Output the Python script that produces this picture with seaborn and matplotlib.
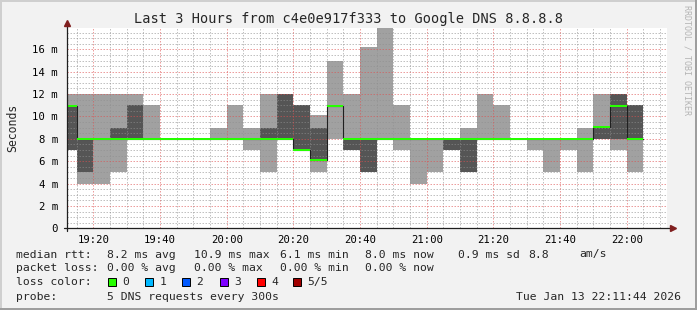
import numpy as np
import pandas as pd
import matplotlib
matplotlib.use("Agg")
import matplotlib.pyplot as plt
import seaborn as sns
from matplotlib.patches import Rectangle
from matplotlib.lines import Line2D

# ---------------- data ----------------
bin_end = ["19:15", "19:20", "19:25", "19:30", "19:35", "19:40", "19:45", "19:50",
           "19:55", "20:00", "20:05", "20:10", "20:15", "20:20", "20:25", "20:30",
           "20:35", "20:40", "20:45", "20:50", "20:55", "21:00", "21:05", "21:10",
           "21:15", "21:20", "21:25", "21:30", "21:35", "21:40", "21:45", "21:50",
           "21:55", "22:00", "22:05"]
ping_min = [7, 4, 4, 5, 8, 8, 8, 8, 8, 8, 8, 7, 5, 8, 7, 5, 8, 7, 5, 8,
            7, 4, 5, 7, 5, 8, 8, 8, 7, 5, 7, 5, 8, 7, 5]
ping_lo = [7, 5, 8, 8, 8, 8, 8, 8, 8, 8, 8, 8, 8, 8, 7, 6.1, 10.9, 7, 5, 8,
           8, 8, 8, 7, 5, 8, 8, 8, 8, 8, 8, 8, 8, 8, 8]
median = [10.9, 8, 8, 8, 8, 8, 8, 8, 8, 8, 8, 8, 8, 8, 7, 6.1, 10.9, 8, 8, 8,
          8, 8, 8, 8, 8, 8, 8, 8, 8, 8, 8, 8, 9.1, 10.9, 8]
ping_hi = [10.9, 8, 8, 9, 11, 8, 8, 8, 8, 8, 8, 8, 9, 12, 11, 9, 10.9, 8, 8, 8,
           8, 8, 8, 8, 8, 8, 8, 8, 8, 8, 8, 8, 9.1, 12, 11]
ping_max = [12, 12, 12, 12, 12, 11, 8, 8, 8, 9, 11, 9, 12, 12, 11, 10.1, 15, 12, 16.2, 17.9,
            11, 8, 8, 8, 9, 12, 11, 8, 8, 8, 8, 9, 12, 12, 11]
x_tick_labels = ["19:20", "19:40", "20:00", "20:20", "20:40", "21:00", "21:20", "21:40", "22:00"]
y_tick_values = [0, 2, 4, 6, 8, 10, 12, 14, 16]
window = ("19:12", "22:12")
title = "Last 3 Hours from c4e0e917f333 to Google DNS 8.8.8.8"
loss_labels = ["0", "1", "2", "3", "4", "5/5"]
loss_colors = ["#26ff00", "#00b8ff", "#0059ff", "#7e00ff", "#ff0000", "#a10000"]

# ---------------- helpers ----------------
def mins(t):
    h, m = t.split(":")
    return (int(h) - 19) * 60 + int(m)

x0, x1 = mins(window[0]), mins(window[1])
ends = np.array([mins(t) for t in bin_end], dtype=float)
starts = np.maximum(ends - 5, x0)
edges = np.append(starts, ends[-1])

def ext(a):
    a = np.asarray(a, dtype=float)
    return np.append(a, a[-1])

df = pd.DataFrame({"t": edges, "min": ext(ping_min), "lo": ext(ping_lo),
                   "med": ext(median), "hi": ext(ping_hi), "max": ext(ping_max)})

sns.set_style("white")
plt.rcParams["font.family"] = ["DejaVu Sans Mono", "DejaVu Sans"]

W, H = 697, 310
fig = plt.figure(figsize=(W / 100, H / 100), dpi=100, facecolor="#f2f2f2")
ax = fig.add_axes([66.7 / W, 1 - 228.3 / H, 600 / W, 200.8 / H])
ax.set_facecolor("white")

ymax = 17.95
ax.set_xlim(x0, x1)
ax.set_ylim(0, ymax)

# smoke
ax.fill_between(df["t"], df["min"], df["max"], step="post", color="#a1a1a1", lw=0, zorder=1)
ax.fill_between(df["t"], df["lo"], df["hi"], step="post", color="#555555", lw=0, zorder=1.1)

# grid (dotted, translucent like rrdtool)
major_x = [mins(t) for t in x_tick_labels]
minor_x = [v for v in np.arange(x0 + 3, x1 + 0.1, 5) if v not in major_x]
minor_y = [v for v in np.arange(0.5, ymax, 0.5) if v not in y_tick_values]
dot = (0, (1.5, 1.5))
gcol = (0.56, 0.56, 0.56, 0.55)
mcol = (0.87, 0.31, 0.31, 0.55)
for v in minor_x:
    ax.axvline(v, color=gcol, lw=0.72, linestyle=dot, zorder=2)
for v in minor_y:
    ax.axhline(v, color=gcol, lw=0.72, linestyle=dot, zorder=2)
for v in major_x:
    ax.axvline(v, color=mcol, lw=0.72, linestyle=dot, zorder=2.2)
for v in y_tick_values[1:]:
    ax.axhline(v, color=mcol, lw=0.72, linestyle=dot, zorder=2.2)

# median
sns.lineplot(data=df, x="t", y="med", drawstyle="steps-post", color="#202020",
             lw=0.8, estimator=None, sort=False, ax=ax, zorder=3)
half = ymax / 200.8
ax.fill_between(df["t"], df["med"] - half, df["med"] + half, step="post",
                color=loss_colors[0], lw=0, zorder=3.5)

# ticks
ax.set_xticks(major_x)
ax.set_xticklabels(x_tick_labels)
ax.set_xticks(minor_x, minor=True)
ax.set_yticks(y_tick_values)
ax.set_yticklabels(["0" if v == 0 else f"{v} m" for v in y_tick_values])
ax.grid(False)
ax.tick_params(axis="both", which="both", length=2, width=0.7, labelsize=7.7, colors="black")
ax.tick_params(axis="x", which="major", pad=2.5, color=mcol)
ax.tick_params(axis="y", which="major", pad=4.5, color=mcol)
ax.tick_params(axis="x", which="minor", color=gcol)
ax.set_xlabel("")
ax.set_ylabel("Seconds", fontsize=8.3, labelpad=9)
for s in ax.spines.values():
    s.set_visible(False)

# axes lines with arrows
ax.add_line(Line2D([-0.005, 1.008], [0, 0], transform=ax.transAxes, color="#1f1f1f",
                   lw=0.9, clip_on=False, zorder=5))
ax.add_line(Line2D([0, 0], [-0.012, 1.015], transform=ax.transAxes, color="#1f1f1f",
                   lw=0.9, clip_on=False, zorder=5))
ax.plot([1.01], [0], marker=">", ms=4.5, color="#801f1f", transform=ax.transAxes,
        clip_on=False, zorder=6)
ax.plot([0], [1.022], marker="^", ms=4.5, color="#801f1f", transform=ax.transAxes,
        clip_on=False, zorder=6)

def ft(x, y, s, **kw):
    kw.setdefault("fontsize", 8.2)
    kw.setdefault("va", "center")
    fig.text(x / W, 1 - y / H, s, **kw)

ft(348.5, 19.3, title, fontsize=9.8, ha="center")
ft(687.5, 60, "RRDTOOL / TOBI OETIKER", fontsize=6, rotation=270, ha="center",
   color="#b4b4b4")

ft(16, 254.5, "median rtt:")
for xx, s in zip([106.7, 193.8, 280, 365.3, 457.8, 528, 579],
                 ["8.2 ms avg", "10.9 ms max", "6.1 ms min", "8.0 ms now",
                  "0.9 ms sd", "8.8", "am/s"]):
    ft(xx, 254.5, s)
ft(16, 268.4, "packet loss:")
for xx, s in zip([106.7, 193.8, 280, 365.3],
                 ["0.00 % avg", "0.00 % max", "0.00 % min", "0.00 % now"]):
    ft(xx, 268.4, s)
ft(16, 282.3, "loss color:")
sw_x = [108, 145, 182, 219.6, 257, 293]
for xx, lab, col in zip(sw_x, loss_labels, loss_colors):
    fig.add_artist(Rectangle((xx / W, 1 - 286.3 / H), 8 / W, 8 / H,
                             transform=fig.transFigure, facecolor=col,
                             edgecolor="black", lw=0.7))
    ft(xx + 14.5, 282.3, lab)
ft(16, 296.6, "probe:")
ft(106.7, 296.6, "5 DNS requests every 300s")
ft(681, 296.6, "Tue Jan 13 22:11:44 2026", ha="right")

# frame
for (x, y, w, h, c) in [(0, 1 - 2 / H, 1, 2 / H, "#cfcfcf"), (0, 0, 2 / W, 1, "#cfcfcf"),
                        (0, 0, 1, 2 / H, "#9e9e9e"), (1 - 2 / W, 0, 2 / W, 1, "#9e9e9e")]:
    fig.add_artist(Rectangle((x, y), w, h, transform=fig.transFigure, facecolor=c,
                             edgecolor="none"))

fig.savefig("out.png", dpi=100, facecolor=fig.get_facecolor())
